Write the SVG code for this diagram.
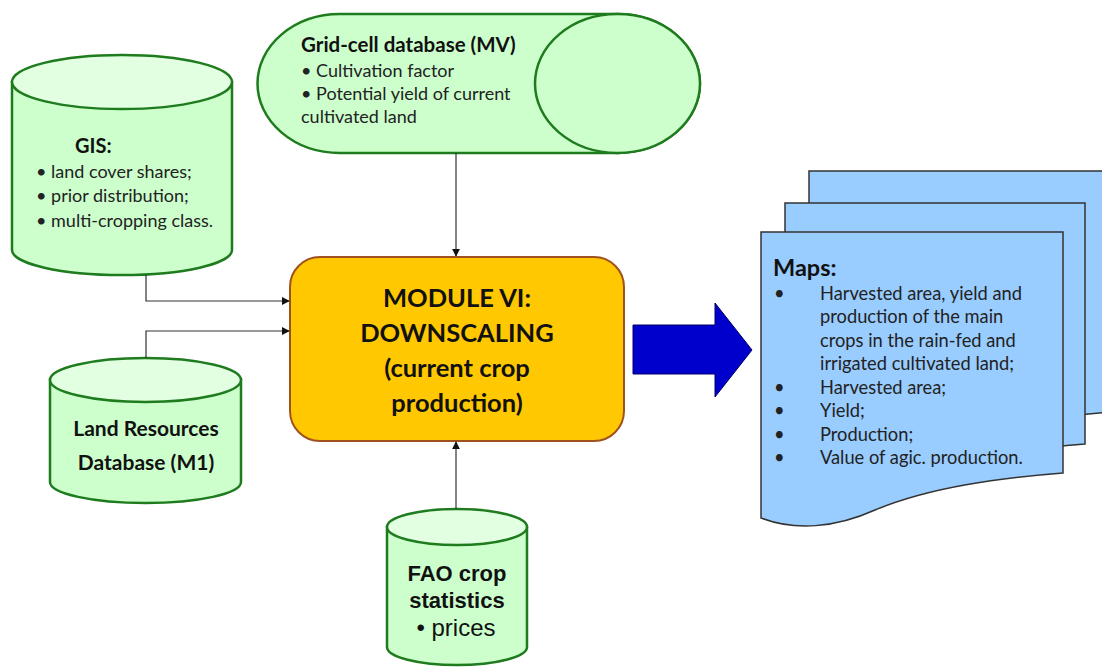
<svg xmlns="http://www.w3.org/2000/svg" width="1102" height="667" viewBox="0 0 1102 667">
<style>
.cyl{fill:#CCFFCC;stroke:#1E7B1E;stroke-width:2.5}
.cyltop{fill:#E2FFE2;stroke:#1E7B1E;stroke-width:2.5}
.t{font-family:Lato,Carlito,"Liberation Sans",sans-serif;fill:#222}
.b{font-weight:bold;fill:#111}
.ar{font-family:"Liberation Sans",Arial,sans-serif;fill:#111}
.doc{fill:#99CCFF;stroke:#333;stroke-width:1.5}
.con{fill:none;stroke:#333;stroke-width:1.2}
</style>
<defs>
<marker id="ah" viewBox="0 0 10 10" refX="9" refY="5" markerWidth="8" markerHeight="8" markerUnits="userSpaceOnUse" orient="auto">
<path d="M0,0 L10,5 L0,10 Z" fill="#111"/>
</marker>
</defs>
<rect width="1102" height="667" fill="#fff"/>

<g id="gis">
<path class="cyl" d="M12,82 V250 A110,25 0 0 0 232,250 V82 Z"/>
<ellipse class="cyltop" cx="122" cy="82" rx="110" ry="27"/>
<text class="t b" x="75" y="153" font-size="20">GIS:</text>
<text class="t" x="36" y="178" font-size="18">• land cover shares;</text>
<text class="t" x="36" y="202" font-size="18">• prior distribution;</text>
<text class="t" x="36" y="227" font-size="18">• multi-cropping class.</text>
</g>

<g id="gridcell">
<path class="cyl" d="M340,14 H617.5 A82.5,69.5 0 0 1 617.5,153 H340 A82.5,69.5 0 0 1 340,14 Z"/>
<ellipse class="cyl" cx="617.5" cy="83.5" rx="82.5" ry="69.5"/>
<text class="t b" x="301" y="52" font-size="20.5">Grid-cell database (MV)</text>
<text class="t" x="301" y="77" font-size="18">• Cultivation factor</text>
<text class="t" x="301" y="100" font-size="18">• Potential yield of current</text>
<text class="t" x="301" y="123" font-size="18">cultivated land</text>
</g>

<g id="module">
<rect x="290" y="257" width="334" height="184" rx="30" fill="#FFC800" stroke="#A0521E" stroke-width="2"/>
<g class="t b" font-size="25.5" text-anchor="middle">
<text x="457" y="307">MODULE VI:</text>
<text x="457" y="342">DOWNSCALING</text>
<text x="457" y="377">(current crop</text>
<text x="457" y="412">production)</text>
</g>
</g>

<g id="landres">
<path class="cyl" d="M50,380 V482 A95.5,21 0 0 0 241,482 V380 Z"/>
<ellipse class="cyltop" cx="145.5" cy="380" rx="95.5" ry="22"/>
<g class="t b" font-size="21" text-anchor="middle">
<text x="146" y="436">Land Resources</text>
<text x="146" y="470">Database (M1)</text>
</g>
</g>

<g id="fao">
<path class="cyl" d="M387,527 V647 A70,18 0 0 0 527,647 V527 Z"/>
<ellipse class="cyltop" cx="457" cy="527" rx="70" ry="18"/>
<g class="ar" text-anchor="middle" font-size="22">
<text x="457" y="581" font-weight="bold">FAO crop</text>
<text x="457" y="608" font-weight="bold">statistics</text>
<text x="456" y="636" font-size="24">• prices</text>
</g>
</g>

<g id="bigarrow">
<polygon points="633,325 715,325 715,303 752,350 715,397 715,374 633,374" fill="#0000CC" stroke="#000066" stroke-width="1"/>
</g>

<g id="maps">
<path class="doc" transform="translate(48,-61)" d="M761,232 H1063 V473 C1000,478 930,487 875,510 C835,528 795,531 761,518 Z"/>
<path class="doc" transform="translate(24,-29)" d="M761,232 H1061 V473 C1000,478 930,487 875,510 C835,528 795,531 761,518 Z"/>
<path class="doc" d="M761,232 H1063 V473 C1000,478 930,487 875,510 C835,528 795,531 761,518 Z"/>
<text class="t b" x="773" y="276" font-size="23.5">Maps:</text>
<g class="t" font-size="18.3">
<text x="774" y="300">•</text><text x="820" y="300">Harvested area, yield and</text>
<text x="820" y="323">production of the main</text>
<text x="820" y="347">crops in the rain-fed and</text>
<text x="820" y="370">irrigated cultivated land;</text>
<text x="774" y="394">•</text><text x="820" y="394">Harvested area;</text>
<text x="774" y="417">•</text><text x="820" y="417">Yield;</text>
<text x="774" y="441">•</text><text x="820" y="441">Production;</text>
<text x="774" y="464">•</text><text x="820" y="464">Value of agic. production.</text>
</g>
</g>

<g id="connectors">
<path class="con" d="M456,153 V256" marker-end="url(#ah)"/>
<path class="con" d="M146,275 V301 H289" marker-end="url(#ah)"/>
<path class="con" d="M146,358 V331 H289" marker-end="url(#ah)"/>
<path class="con" d="M456,509 V442" marker-end="url(#ah)"/>
</g>
</svg>
